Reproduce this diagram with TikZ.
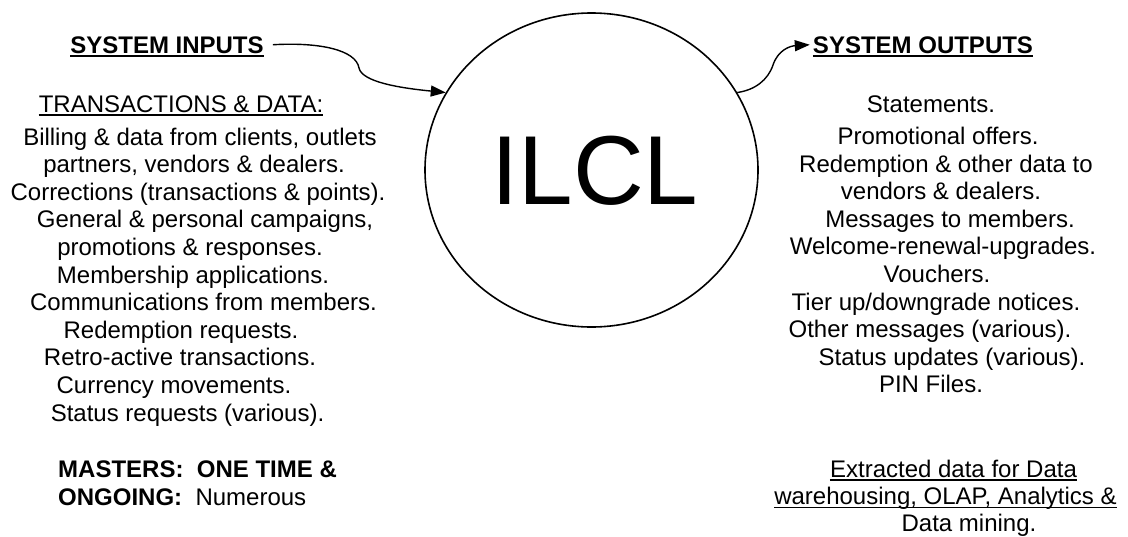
\documentclass[tikz,border=0pt]{standalone}
\usepackage{fontspec}
\setmainfont{Liberation Sans}
\usetikzlibrary{arrows.meta,shapes.geometric}

\tikzset{
  txt/.style={inner sep=0pt, anchor=base, font=\fontsize{24}{28}\selectfont},
  hd/.style={txt, font=\fontsize{24}{28}\selectfont\bfseries},
  rule/.style={line width=1.1pt},
  boldrule/.style={line width=1.8pt},
  flow/.style={line width=1.4pt, -{Triangle[length=15pt,width=11pt]}},
}

\begin{document}
\begin{tikzpicture}[x=1pt,y=-1pt]
\useasboundingbox (0,0) rectangle (1128,536);

% central process
\node[draw, ellipse, line width=1.6pt, minimum width=333pt, minimum height=314pt, inner sep=0pt] (ilcl) at (591.5,170) {};
\node[inner sep=0pt, font=\fontsize{98}{100}\selectfont] (ilcltxt) at (595,171) {ILCL};

% headings
\node[hd] (inp) at (167,53) {SYSTEM INPUTS};
\draw[boldrule] ([yshift=-3pt]inp.base west) -- ([yshift=-3pt]inp.base east);
\node[hd] (out) at (923,53) {SYSTEM OUTPUTS};
\draw[boldrule] ([yshift=-3pt]out.base west) -- ([yshift=-3pt]out.base east);

% inputs
\node[txt] (tx) at (181,112) {TRANSACTIONS \& DATA:};
\draw[rule] ([yshift=-3pt]tx.base west) -- ([yshift=-3pt]tx.base east);
\node[txt] (l1)  at (200,145)   {Billing \& data from clients, outlets};
\node[txt] (l2)  at (194,172.6) {partners, vendors \& dealers.};
\node[txt] (l3)  at (198,200.2) {Corrections (transactions \& points).};
\node[txt] (l4)  at (205,227.8) {General \& personal campaigns,};
\node[txt] (l5)  at (190,255.4) {promotions \& responses.};
\node[txt] (l6)  at (193,283)   {Membership applications.};
\node[txt] (l7)  at (203.5,310.6) {Communications from members.};
\node[txt] (l8)  at (181,338.2) {Redemption requests.};
\node[txt] (l9)  at (180,365.8) {Retro-active transactions.};
\node[txt] (l10) at (174,393.4) {Currency movements.};
\node[txt] (l11) at (187.5,421) {Status requests (various).};

\node[txt, anchor=base west] (m1) at (58,477) {\textbf{MASTERS:\ \ ONE TIME \&}};
\node[txt, anchor=base west] (m2) at (58,505) {\textbf{ONGOING:}\ \ Numerous};

% outputs
\node[txt] (r1)  at (931,112)   {Statements.};
\node[txt] (r2)  at (938,144.5) {Promotional offers.};
\node[txt] (r3)  at (946,172.1) {Redemption \& other data to};
\node[txt] (r4)  at (941,199.7) {vendors \& dealers.};
\node[txt] (r5)  at (950,227.3) {Messages to members.};
\node[txt] (r6)  at (943,254.9) {Welcome-renewal-upgrades.};
\node[txt] (r7)  at (937,282.5) {Vouchers.};
\node[txt] (r8)  at (936,310.1) {Tier up/downgrade notices.};
\node[txt] (r9)  at (930,337.7) {Other messages (various).};
\node[txt] (r10) at (952,365.3) {Status updates (various).};
\node[txt] (r11) at (931,392.9) {PIN Files.};

\node[txt] (e1) at (953.5,477) {Extracted data for Data};
\draw[rule] ([yshift=-3pt]e1.base west) -- ([yshift=-3pt]e1.base east);
\node[txt] (e2) at (945.5,504.5) {warehousing, OLAP, Analytics \&};
\draw[rule] ([yshift=-3pt]e2.base west) -- ([yshift=-3pt]e2.base east);
\node[txt] (e3) at (969,531) {Data mining.};

% flows into and out of the system
\draw[flow] ([xshift=9pt]inp.east) .. controls (320,42) and (356,50) .. (359,68)
            .. controls (362,82) and (400,88) .. (ilcl.152);
\draw[flow] (ilcl.28) .. controls (755,90) and (768,80) .. (773,65)
            .. controls (778,50) and (790,46) .. ([xshift=-3pt]out.west);
\end{tikzpicture}
\end{document}
